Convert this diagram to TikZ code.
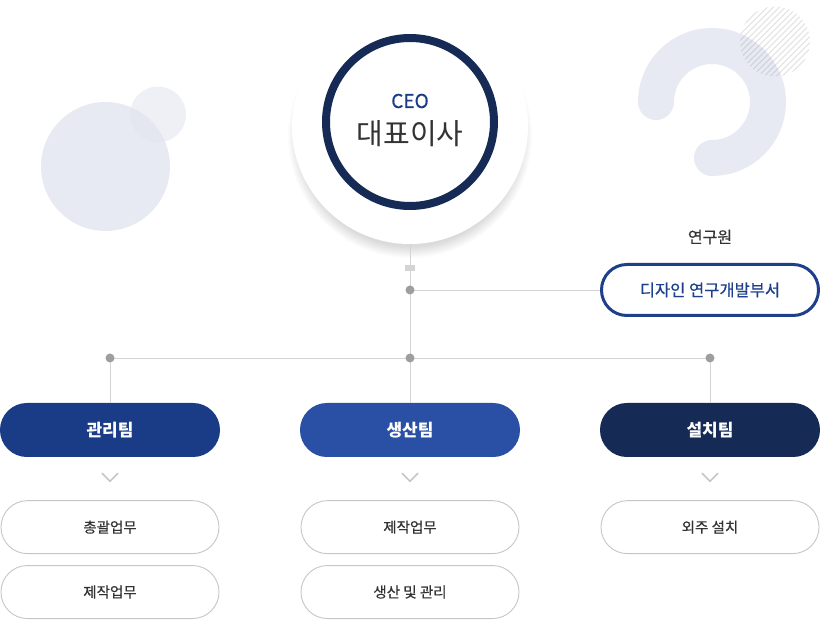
\documentclass[tikz,border=0pt]{standalone}
\usepackage{fontspec}
\setmainfont{Noto Sans CJK KR}
\newfontfamily\medfont[FakeBold=0.5]{Noto Sans CJK KR}
\usetikzlibrary{positioning,calc}
\definecolor{navy}{HTML}{152A55}
\definecolor{royal}{HTML}{1A3C87}
\definecolor{midblue}{HTML}{2A50A5}
\definecolor{resblue}{HTML}{1E3F8C}
\definecolor{decor}{HTML}{E8EAF3}
\definecolor{decorlight}{HTML}{E4E6EF}
\definecolor{linegray}{HTML}{D4D4D4}
\definecolor{dotgray}{HTML}{9E9E9E}
\definecolor{boxgray}{HTML}{C6C6C6}
\definecolor{txtgray}{HTML}{333333}
\newcommand{\fsz}[1]{\fontsize{#1}{#1}\selectfont}
\tikzset{
  team/.style={rounded corners=26.9pt, minimum width=220pt, minimum height=54pt,
    inner sep=0pt, text=white, font=\fsz{17}\bfseries},
  task/.style={draw=boxgray, line width=0.9pt, fill=white, rounded corners=26.4pt,
    minimum width=218pt, minimum height=53pt, inner sep=0pt, text=txtgray, font=\medfont\fsz{14.5}},
  conn/.style={draw=linegray, line width=0.9pt},
  dot/.style={circle, fill=dotgray, inner sep=0pt, minimum size=9pt},
  chev/.style={draw=boxgray, line width=1.6pt},
}

\begin{document}
\begin{tikzpicture}[x=1pt,y=1pt]
  \useasboundingbox (0,0) rectangle (820,-620);
  % decorations
  \fill[decor] (105.5,-166.5) circle (64.5);
  \fill[decorlight, opacity=0.6] (158,-114.5) circle (28);
  \draw[decor, line width=36pt, line cap=round] (656,-102) arc[start angle=180, end angle=-90, radius=56];
  \begin{scope}
    \clip (775,-41.5) circle (35);
    \foreach \i in {-84,-78,...,84}
      \draw[gray, opacity=0.25, line width=1pt] (775+\i-45,-86.5) -- ++(90,90);
  \end{scope}
  % CEO
  \foreach \k in {1,...,12}
    \fill[black, opacity=0.01] (410,-136) circle (110+\k*1.0);
  \node[circle, fill=white, minimum size=236pt, inner sep=0pt] (ceoback) at (410,-126) {};
  \node[circle, draw=navy, line width=8pt, minimum size=168pt, inner sep=0pt] (ceo) at (410,-122) {};
  \node[text=royal, font=\medfont\fsz{19}] (ceolbl) at (410,-101) {CEO};
  \node[text=txtgray, font=\fsz{29}] (ceoname) at (410,-134) {대표이사};
  % research
  \node[text=txtgray, font=\medfont\fsz{16}] (reslbl) at (710,-237) {연구원};
  \node[draw=resblue, line width=3pt, fill=white, rounded corners=25.4pt, minimum width=217pt,
    minimum height=51pt, inner sep=0pt, text=resblue, font=\medfont\fsz{16.5}] (res) at (710,-290) {디자인 연구개발부서};
  % teams
  \node[team, fill=royal] (mgmt) at (110,-430) {관리팀};
  \node[team, fill=midblue] (prod) at (410,-430) {생산팀};
  \node[team, fill=navy] (inst) at (710,-430) {설치팀};
  % tasks
  \node[task, below=43pt of mgmt] (mgmt1) {총괄업무};
  \node[task, below=11pt of mgmt1] (mgmt2) {제작업무};
  \node[task, below=43pt of prod] (prod1) {제작업무};
  \node[task, below=11pt of prod1] (prod2) {생산 및 관리};
  \node[task, below=43pt of inst] (inst1) {외주 설치};
  % connectors
  \coordinate (jres) at (410,-290);
  \coordinate (jmid) at (410,-358);
  \coordinate (jleft) at (110,-358);
  \coordinate (jright) at (710,-358);
  \draw[conn] (ceoback.south) -- (jmid);
  \draw[conn] (jres) -- (res.west);
  \draw[conn] (jleft) -- (jright);
  \draw[conn] (jleft) -- (mgmt.north);
  \draw[conn] (jmid) -- (prod.north);
  \draw[conn] (jright) -- (inst.north);
  \fill[linegray] (405,-265) rectangle (415,-271);
  \foreach \j in {jres,jmid,jleft,jright}
    \node[dot] at (\j) {};
  % chevrons
  \foreach \t in {mgmt,prod,inst}
    \draw[chev] ($(\t.south)+(-8,-16)$) -- ++(8,-8) -- ++(8,8);
\end{tikzpicture}
\end{document}
